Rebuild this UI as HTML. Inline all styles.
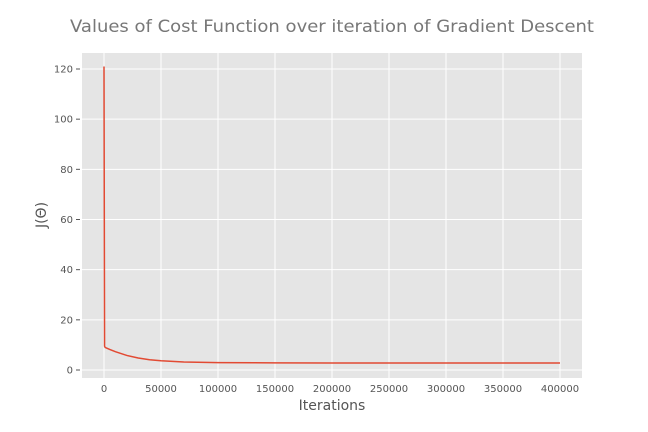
<!DOCTYPE html>
<html><head><meta charset="utf-8"><style>
body{margin:0;background:#fff;font-family:"DejaVu Sans","Liberation Sans",sans-serif}
svg{display:block}
</style></head><body>
<svg id="chart" width="648" height="432">
<text x="332" y="32" text-anchor="middle" font-size="17" fill="#777" textLength="524" lengthAdjust="spacingAndGlyphs">Values of Cost Function over iteration of Gradient Descent</text>
<rect x="82" y="53" width="500" height="325" fill="#e5e5e5"/>
<g id="grid"></g><g id="ticks"></g>
<path id="line" fill="none" stroke="#e24a33" stroke-width="1.5"/>
<text x="332" y="410" text-anchor="middle" font-size="14" fill="#555">Iterations</text>
<text transform="translate(46,215) rotate(-90)" text-anchor="middle" font-size="14" fill="#555">J(Θ)</text>
</svg>
<script>
const iterations=[0,500,1000,5000,10000,20000,30000,40000,50000,70000,100000,150000,200000,300000,400000];
const costValues=[121,9.5,9,8.2,7.3,5.8,4.8,4.1,3.7,3.2,2.95,2.85,2.8,2.8,2.8];
const xTicks=[0,50000,100000,150000,200000,250000,300000,350000,400000];
const yTicks=[0,20,40,60,80,100,120];
const ns="http://www.w3.org/2000/svg";
const xs=v=>104+v*(456/400000);
const ys=v=>370-v*(301/120);
const grid=document.getElementById('grid'),ticks=document.getElementById('ticks');
function mk(tag,attrs,parent){const e=document.createElementNS(ns,tag);for(const k in attrs)e.setAttribute(k,attrs[k]);parent.appendChild(e);return e;}
xTicks.forEach(t=>{
 const l=mk('line',{x1:xs(t),x2:xs(t),y1:53,y2:378,stroke:'#fff','stroke-width':1},grid);
 
 
 const tx=mk('text',{x:xs(t),y:392,'text-anchor':'middle','font-size':10,fill:'#555'},ticks);
 tx.textContent=t;
 
 
});
yTicks.forEach(t=>{
 const l=mk('line',{x1:82,x2:582,y1:ys(t),y2:ys(t),stroke:'#fff','stroke-width':1},grid);
 
 
 const tx=mk('text',{x:73,y:ys(t)+3.5,'text-anchor':'end','font-size':10,fill:'#555'},ticks);
 tx.textContent=t;
 
 
 mk('line',{x1:76,x2:80,y1:ys(t),y2:ys(t),stroke:'#555'},ticks);
});
document.getElementById('line').setAttribute('d',iterations.map((v,i)=>(i?'L':'M')+xs(v)+','+ys(costValues[i])).join(''));
</script>
</body></html>
